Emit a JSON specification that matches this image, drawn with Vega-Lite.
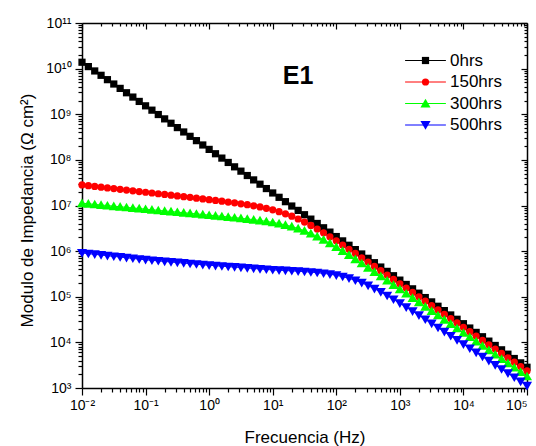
{
"$schema":"https://vega.github.io/schema/vega-lite/v6.json",
"width":445,"height":365,
"autosize":{"type":"none"},
"padding":{"left":82,"top":23,"right":9,"bottom":58},
"background":"white",
"config":{"view":{"stroke":null},"font":"Liberation Sans",
"axis":{"grid":false,"labelFlush":false,"domainColor":"black","tickColor":"black","labelColor":"black","titleColor":"black","labelFont":"Liberation Sans","titleFont":"Liberation Sans","labelFontSize":14,"titleFontSize":17,"titleFontWeight":"normal","domainWidth":1.5,"tickWidth":1.2}},
"data":{"values":[
{"s":"0hrs","f":0.01,"z":1.38e10},{"s":"0hrs","f":0.01259,"z":1.108e10},{"s":"0hrs","f":0.01585,"z":8.89e9},{"s":"0hrs","f":0.01995,"z":7.14e9},{"s":"0hrs","f":0.02512,"z":5.73e9},{"s":"0hrs","f":0.03162,"z":4.60e9},{"s":"0hrs","f":0.03981,"z":3.69e9},{"s":"0hrs","f":0.05012,"z":2.96e9},{"s":"0hrs","f":0.0631,"z":2.38e9},{"s":"0hrs","f":0.07943,"z":1.91e9},
{"s":"0hrs","f":0.1,"z":1.53e9},{"s":"0hrs","f":0.1259,"z":1.229e9},{"s":"0hrs","f":0.1585,"z":9.86e8},{"s":"0hrs","f":0.1995,"z":7.92e8},{"s":"0hrs","f":0.2512,"z":6.35e8},{"s":"0hrs","f":0.3162,"z":5.10e8},{"s":"0hrs","f":0.3981,"z":4.09e8},{"s":"0hrs","f":0.5012,"z":3.28e8},{"s":"0hrs","f":0.631,"z":2.64e8},{"s":"0hrs","f":0.7943,"z":2.12e8},
{"s":"0hrs","f":1,"z":1.697e8},{"s":"0hrs","f":1.259,"z":1.363e8},{"s":"0hrs","f":1.585,"z":1.094e8},{"s":"0hrs","f":1.995,"z":8.78e7},{"s":"0hrs","f":2.512,"z":7.04e7},{"s":"0hrs","f":3.162,"z":5.66e7},{"s":"0hrs","f":3.981,"z":4.54e7},{"s":"0hrs","f":5.012,"z":3.64e7},{"s":"0hrs","f":6.31,"z":2.93e7},{"s":"0hrs","f":7.943,"z":2.35e7},
{"s":"0hrs","f":10,"z":1.882e7},{"s":"0hrs","f":12.59,"z":1.512e7},{"s":"0hrs","f":15.85,"z":1.213e7},{"s":"0hrs","f":19.95,"z":9.74e6},{"s":"0hrs","f":25.12,"z":7.81e6},{"s":"0hrs","f":31.62,"z":6.28e6},{"s":"0hrs","f":39.81,"z":5.03e6},{"s":"0hrs","f":50.12,"z":4.04e6},{"s":"0hrs","f":63.1,"z":3.25e6},{"s":"0hrs","f":79.43,"z":2.61e6},
{"s":"0hrs","f":100,"z":2.087e6},{"s":"0hrs","f":125.9,"z":1.677e6},{"s":"0hrs","f":158.5,"z":1.345e6},{"s":"0hrs","f":199.5,"z":1.080e6},{"s":"0hrs","f":251.2,"z":8.66e5},{"s":"0hrs","f":316.2,"z":6.96e5},{"s":"0hrs","f":398.1,"z":5.58e5},{"s":"0hrs","f":501.2,"z":4.48e5},{"s":"0hrs","f":631,"z":3.60e5},{"s":"0hrs","f":794.3,"z":2.89e5},
{"s":"0hrs","f":1000,"z":2.315e5},{"s":"0hrs","f":1259,"z":1.860e5},{"s":"0hrs","f":1585,"z":1.492e5},{"s":"0hrs","f":1995,"z":1.198e5},{"s":"0hrs","f":2512,"z":9.60e4},{"s":"0hrs","f":3162,"z":7.72e4},{"s":"0hrs","f":3981,"z":6.19e4},{"s":"0hrs","f":5012,"z":4.97e4},{"s":"0hrs","f":6310,"z":3.99e4},{"s":"0hrs","f":7943,"z":3.21e4},
{"s":"0hrs","f":10000,"z":2.567e4},{"s":"0hrs","f":12590,"z":2.063e4},{"s":"0hrs","f":15850,"z":1.655e4},{"s":"0hrs","f":19950,"z":1.329e4},{"s":"0hrs","f":25120,"z":1.065e4},{"s":"0hrs","f":31620,"z":8.56e3},{"s":"0hrs","f":39810,"z":6.87e3},{"s":"0hrs","f":50120,"z":5.51e3},{"s":"0hrs","f":63100,"z":4.43e3},{"s":"0hrs","f":79430,"z":3.56e3},
{"s":"0hrs","f":100000,"z":2.85e3},
{"s":"150hrs","f":0.01,"z":2.818e7},{"s":"150hrs","f":0.01259,"z":2.72e7},{"s":"150hrs","f":0.01585,"z":2.62e7},{"s":"150hrs","f":0.01995,"z":2.523e7},{"s":"150hrs","f":0.02512,"z":2.432e7},{"s":"150hrs","f":0.03162,"z":2.344e7},{"s":"150hrs","f":0.03981,"z":2.259e7},{"s":"150hrs","f":0.05012,"z":2.178e7},{"s":"150hrs","f":0.0631,"z":2.099e7},{"s":"150hrs","f":0.07943,"z":2.023e7},
{"s":"150hrs","f":0.1,"z":1.950e7},{"s":"150hrs","f":0.1259,"z":1.879e7},{"s":"150hrs","f":0.1585,"z":1.811e7},{"s":"150hrs","f":0.1995,"z":1.746e7},{"s":"150hrs","f":0.2512,"z":1.683e7},{"s":"150hrs","f":0.3162,"z":1.622e7},{"s":"150hrs","f":0.3981,"z":1.563e7},{"s":"150hrs","f":0.5012,"z":1.507e7},{"s":"150hrs","f":0.631,"z":1.449e7},{"s":"150hrs","f":0.7943,"z":1.396e7},
{"s":"150hrs","f":1,"z":1.343e7},{"s":"150hrs","f":1.259,"z":1.291e7},{"s":"150hrs","f":1.585,"z":1.242e7},{"s":"150hrs","f":1.995,"z":1.191e7},{"s":"150hrs","f":2.512,"z":1.143e7},{"s":"150hrs","f":3.162,"z":1.091e7},{"s":"150hrs","f":3.981,"z":1.040e7},{"s":"150hrs","f":5.012,"z":9.86e6},{"s":"150hrs","f":6.31,"z":9.29e6},{"s":"150hrs","f":7.943,"z":8.67e6},
{"s":"150hrs","f":10,"z":8.02e6},{"s":"150hrs","f":12.59,"z":7.31e6},{"s":"150hrs","f":15.85,"z":6.58e6},{"s":"150hrs","f":19.95,"z":5.82e6},{"s":"150hrs","f":25.12,"z":5.06e6},{"s":"150hrs","f":31.62,"z":4.33e6},{"s":"150hrs","f":39.81,"z":3.66e6},{"s":"150hrs","f":50.12,"z":3.05e6},{"s":"150hrs","f":63.1,"z":2.515e6},{"s":"150hrs","f":79.43,"z":2.06e6},
{"s":"150hrs","f":100,"z":1.678e6},{"s":"150hrs","f":125.9,"z":1.361e6},{"s":"150hrs","f":158.5,"z":1.100e6},{"s":"150hrs","f":199.5,"z":8.88e5},{"s":"150hrs","f":251.2,"z":7.15e5},{"s":"150hrs","f":316.2,"z":5.75e5},{"s":"150hrs","f":398.1,"z":4.63e5},{"s":"150hrs","f":501.2,"z":3.72e5},{"s":"150hrs","f":631,"z":2.99e5},{"s":"150hrs","f":794.3,"z":2.40e5},
{"s":"150hrs","f":1000,"z":1.926e5},{"s":"150hrs","f":1259,"z":1.547e5},{"s":"150hrs","f":1585,"z":1.241e5},{"s":"150hrs","f":1995,"z":9.97e4},{"s":"150hrs","f":2512,"z":7.99e4},{"s":"150hrs","f":3162,"z":6.42e4},{"s":"150hrs","f":3981,"z":5.15e4},{"s":"150hrs","f":5012,"z":4.13e4},{"s":"150hrs","f":6310,"z":3.32e4},{"s":"150hrs","f":7943,"z":2.67e4},
{"s":"150hrs","f":10000,"z":2.135e4},{"s":"150hrs","f":12590,"z":1.716e4},{"s":"150hrs","f":15850,"z":1.377e4},{"s":"150hrs","f":19950,"z":1.105e4},{"s":"150hrs","f":25120,"z":8.86e3},{"s":"150hrs","f":31620,"z":7.12e3},{"s":"150hrs","f":39810,"z":5.71e3},{"s":"150hrs","f":50120,"z":4.58e3},{"s":"150hrs","f":63100,"z":3.68e3},{"s":"150hrs","f":79430,"z":2.96e3},
{"s":"150hrs","f":100000,"z":2.37e3},
{"s":"300hrs","f":0.01,"z":1.122e7},{"s":"300hrs","f":0.01259,"z":1.089e7},{"s":"300hrs","f":0.01585,"z":1.057e7},{"s":"300hrs","f":0.01995,"z":1.026e7},{"s":"300hrs","f":0.02512,"z":9.95e6},{"s":"300hrs","f":0.03162,"z":9.66e6},{"s":"300hrs","f":0.03981,"z":9.38e6},{"s":"300hrs","f":0.05012,"z":9.10e6},{"s":"300hrs","f":0.0631,"z":8.83e6},{"s":"300hrs","f":0.07943,"z":8.57e6},
{"s":"300hrs","f":0.1,"z":8.32e6},{"s":"300hrs","f":0.1259,"z":8.07e6},{"s":"300hrs","f":0.1585,"z":7.83e6},{"s":"300hrs","f":0.1995,"z":7.60e6},{"s":"300hrs","f":0.2512,"z":7.38e6},{"s":"300hrs","f":0.3162,"z":7.16e6},{"s":"300hrs","f":0.3981,"z":6.95e6},{"s":"300hrs","f":0.5012,"z":6.75e6},{"s":"300hrs","f":0.631,"z":6.55e6},{"s":"300hrs","f":0.7943,"z":6.35e6},
{"s":"300hrs","f":1,"z":6.15e6},{"s":"300hrs","f":1.259,"z":5.97e6},{"s":"300hrs","f":1.585,"z":5.79e6},{"s":"300hrs","f":1.995,"z":5.61e6},{"s":"300hrs","f":2.512,"z":5.43e6},{"s":"300hrs","f":3.162,"z":5.25e6},{"s":"300hrs","f":3.981,"z":5.07e6},{"s":"300hrs","f":5.012,"z":4.89e6},{"s":"300hrs","f":6.31,"z":4.69e6},{"s":"300hrs","f":7.943,"z":4.49e6},
{"s":"300hrs","f":10,"z":4.27e6},{"s":"300hrs","f":12.59,"z":4.02e6},{"s":"300hrs","f":15.85,"z":3.75e6},{"s":"300hrs","f":19.95,"z":3.456e6},{"s":"300hrs","f":25.12,"z":3.13e6},{"s":"300hrs","f":31.62,"z":2.79e6},{"s":"300hrs","f":39.81,"z":2.443e6},{"s":"300hrs","f":50.12,"z":2.101e6},{"s":"300hrs","f":63.1,"z":1.779e6},{"s":"300hrs","f":79.43,"z":1.486e6},
{"s":"300hrs","f":100,"z":1.229e6},{"s":"300hrs","f":125.9,"z":1.007e6},{"s":"300hrs","f":158.5,"z":8.21e5},{"s":"300hrs","f":199.5,"z":6.66e5},{"s":"300hrs","f":251.2,"z":5.38e5},{"s":"300hrs","f":316.2,"z":4.34e5},{"s":"300hrs","f":398.1,"z":3.50e5},{"s":"300hrs","f":501.2,"z":2.813e5},{"s":"300hrs","f":631,"z":2.262e5},{"s":"300hrs","f":794.3,"z":1.817e5},
{"s":"300hrs","f":1000,"z":1.461e5},{"s":"300hrs","f":1259,"z":1.174e5},{"s":"300hrs","f":1585,"z":9.41e4},{"s":"300hrs","f":1995,"z":7.56e4},{"s":"300hrs","f":2512,"z":6.06e4},{"s":"300hrs","f":3162,"z":4.87e4},{"s":"300hrs","f":3981,"z":3.91e4},{"s":"300hrs","f":5012,"z":3.14e4},{"s":"300hrs","f":6310,"z":2.52e4},{"s":"300hrs","f":7943,"z":2.03e4},
{"s":"300hrs","f":10000,"z":1.620e4},{"s":"300hrs","f":12590,"z":1.302e4},{"s":"300hrs","f":15850,"z":1.044e4},{"s":"300hrs","f":19950,"z":8.39e3},{"s":"300hrs","f":25120,"z":6.72e3},{"s":"300hrs","f":31620,"z":5.40e3},{"s":"300hrs","f":39810,"z":4.34e3},{"s":"300hrs","f":50120,"z":3.48e3},{"s":"300hrs","f":63100,"z":2.80e3},{"s":"300hrs","f":79430,"z":2.25e3},
{"s":"300hrs","f":100000,"z":1.80e3},
{"s":"500hrs","f":0.01,"z":9.12e5},{"s":"500hrs","f":0.01259,"z":8.81e5},{"s":"500hrs","f":0.01585,"z":8.51e5},{"s":"500hrs","f":0.01995,"z":8.22e5},{"s":"500hrs","f":0.02512,"z":7.94e5},{"s":"500hrs","f":0.03162,"z":7.67e5},{"s":"500hrs","f":0.03981,"z":7.41e5},{"s":"500hrs","f":0.05012,"z":7.16e5},{"s":"500hrs","f":0.0631,"z":6.92e5},{"s":"500hrs","f":0.07943,"z":6.68e5},
{"s":"500hrs","f":0.1,"z":6.46e5},{"s":"500hrs","f":0.1259,"z":6.28e5},{"s":"500hrs","f":0.1585,"z":6.11e5},{"s":"500hrs","f":0.1995,"z":5.94e5},{"s":"500hrs","f":0.2512,"z":5.78e5},{"s":"500hrs","f":0.3162,"z":5.62e5},{"s":"500hrs","f":0.3981,"z":5.47e5},{"s":"500hrs","f":0.5012,"z":5.32e5},{"s":"500hrs","f":0.631,"z":5.18e5},{"s":"500hrs","f":0.7943,"z":5.04e5},
{"s":"500hrs","f":1,"z":4.90e5},{"s":"500hrs","f":1.259,"z":4.79e5},{"s":"500hrs","f":1.585,"z":4.68e5},{"s":"500hrs","f":1.995,"z":4.57e5},{"s":"500hrs","f":2.512,"z":4.47e5},{"s":"500hrs","f":3.162,"z":4.37e5},{"s":"500hrs","f":3.981,"z":4.27e5},{"s":"500hrs","f":5.012,"z":4.17e5},{"s":"500hrs","f":6.31,"z":4.06e5},{"s":"500hrs","f":7.943,"z":3.97e5},
{"s":"500hrs","f":10,"z":3.88e5},{"s":"500hrs","f":12.59,"z":3.82e5},{"s":"500hrs","f":15.85,"z":3.76e5},{"s":"500hrs","f":19.95,"z":3.69e5},{"s":"500hrs","f":25.12,"z":3.63e5},{"s":"500hrs","f":31.62,"z":3.55e5},{"s":"500hrs","f":39.81,"z":3.47e5},{"s":"500hrs","f":50.12,"z":3.37e5},{"s":"500hrs","f":63.1,"z":3.256e5},{"s":"500hrs","f":79.43,"z":3.12e5},
{"s":"500hrs","f":100,"z":2.95e5},{"s":"500hrs","f":125.9,"z":2.76e5},{"s":"500hrs","f":158.5,"z":2.535e5},{"s":"500hrs","f":199.5,"z":2.286e5},{"s":"500hrs","f":251.2,"z":2.023e5},{"s":"500hrs","f":316.2,"z":1.758e5},{"s":"500hrs","f":398.1,"z":1.502e5},{"s":"500hrs","f":501.2,"z":1.266e5},{"s":"500hrs","f":631,"z":1.057e5},{"s":"500hrs","f":794.3,"z":8.74e4},
{"s":"500hrs","f":1000,"z":7.19e4},{"s":"500hrs","f":1259,"z":5.89e4},{"s":"500hrs","f":1585,"z":4.81e4},{"s":"500hrs","f":1995,"z":3.92e4},{"s":"500hrs","f":2512,"z":3.185e4},{"s":"500hrs","f":3162,"z":2.588e4},{"s":"500hrs","f":3981,"z":2.102e4},{"s":"500hrs","f":5012,"z":1.707e4},{"s":"500hrs","f":6310,"z":1.387e4},{"s":"500hrs","f":7943,"z":1.125e4},
{"s":"500hrs","f":10000,"z":9.12e3},{"s":"500hrs","f":12590,"z":7.40e3},{"s":"500hrs","f":15850,"z":6.00e3},{"s":"500hrs","f":19950,"z":4.86e3},{"s":"500hrs","f":25120,"z":3.94e3},{"s":"500hrs","f":31620,"z":3.20e3},{"s":"500hrs","f":39810,"z":2.594e3},{"s":"500hrs","f":50120,"z":2.104e3},{"s":"500hrs","f":63100,"z":1.706e3},{"s":"500hrs","f":79430,"z":1.384e3},
{"s":"500hrs","f":100000,"z":1.122e3}
]},
"layer":[
{"mark":{"type":"line","strokeOpacity":0},
 "encoding":{
  "x":{"field":"f","type":"quantitative","scale":{"type":"log","domain":[0.01,100000],"nice":false},
   "axis":{"orient":"top","values":[0.02,0.03,0.04,0.05,0.06,0.07,0.08,0.09,0.2,0.3,0.4,0.5,0.6,0.7,0.8,0.9,2,3,4,5,6,7,8,9,20,30,40,50,60,70,80,90,200,300,400,500,600,700,800,900,2000,3000,4000,5000,6000,7000,8000,9000,20000,30000,40000,50000,60000,70000,80000,90000],"labels":false,"domain":false,"tickSize":-3,"title":null}},
  "y":{"field":"z","type":"quantitative","scale":{"type":"log","domain":[1000,100000000000],"nice":false},
   "axis":{"orient":"right","values":[2000,3000,4000,5000,6000,7000,8000,9000,20000,30000,40000,50000,60000,70000,80000,90000,2e5,3e5,4e5,5e5,6e5,7e5,8e5,9e5,2e6,3e6,4e6,5e6,6e6,7e6,8e6,9e6,2e7,3e7,4e7,5e7,6e7,7e7,8e7,9e7,2e8,3e8,4e8,5e8,6e8,7e8,8e8,9e8,2e9,3e9,4e9,5e9,6e9,7e9,8e9,9e9,2e10,3e10,4e10,5e10,6e10,7e10,8e10,9e10],"labels":false,"domain":false,"tickSize":-3,"title":null}},
  "detail":{"field":"s"}
 }},
{"mark":{"type":"line","strokeWidth":1},
 "encoding":{
  "x":{"field":"f","type":"quantitative","scale":{"type":"log","domain":[0.01,100000],"nice":false},
   "axis":{"orient":"bottom","values":[0.01,0.1,1,10,100,1000,10000,100000],"tickSize":7,"labelPadding":3,
    "labelAlign":{"condition":{"test":"datum.value > 50000","value":"right"},"value":"center"},
    "labelExpr":"'10' + ['\u207b\u00b2','\u207b\u00b9','\u2070','\u00b9','\u00b2','\u00b3','\u2074','\u2075'][round(log(datum.value)/LN10)+2]",
    "title":"Frecuencia (Hz)","titleBaseline":"alphabetic","titleY":54}},
  "y":{"field":"z","type":"quantitative","scale":{"type":"log","domain":[1000,100000000000],"nice":false},
   "axis":{"orient":"left","values":[1000,10000,100000,1000000,10000000,100000000,1000000000,10000000000,100000000000],"tickSize":7,"labelPadding":4,
    "labelExpr":"'10' + ['\u00b3','\u2074','\u2075','\u2076','\u2077','\u2078','\u2079','\u00b9\u2070','\u00b9\u00b9'][round(log(datum.value)/LN10)-3]",
    "title":"Modulo de Impedancia (\u03a9 cm\u00b2)","titleBaseline":"alphabetic","titleX":-50,"titleY":187}},
  "stroke":{"field":"s","type":"nominal","scale":{"domain":["0hrs","150hrs","300hrs","500hrs"],"range":["#000000","#ff0000","#00ff00","#0000ff"]},
   "legend":{"orient":"none","legendX":335,"legendY":29,"title":null,"padding":0,"symbolType":"M-5.1,0H5.1","symbolSize":64,"symbolStrokeWidth":1,"symbolFillColor":"transparent","labelFontSize":17,"labelFont":"Liberation Sans","labelColor":"black","labelOffset":16,"rowPadding":3.5}}
 }},
{"mark":{"type":"point","filled":true,"size":52,"strokeWidth":0,"opacity":1},
 "encoding":{
  "x":{"field":"f","type":"quantitative","scale":{"type":"log","domain":[0.01,100000],"nice":false},
   "axis":{"orient":"bottom","values":[0.02,0.03,0.04,0.05,0.06,0.07,0.08,0.09,0.2,0.3,0.4,0.5,0.6,0.7,0.8,0.9,2,3,4,5,6,7,8,9,20,30,40,50,60,70,80,90,200,300,400,500,600,700,800,900,2000,3000,4000,5000,6000,7000,8000,9000,20000,30000,40000,50000,60000,70000,80000,90000],"labels":false,"domain":false,"tickSize":4,"title":null}},
  "y":{"field":"z","type":"quantitative","scale":{"type":"log","domain":[1000,100000000000],"nice":false},
   "axis":{"orient":"left","values":[2000,3000,4000,5000,6000,7000,8000,9000,20000,30000,40000,50000,60000,70000,80000,90000,2e5,3e5,4e5,5e5,6e5,7e5,8e5,9e5,2e6,3e6,4e6,5e6,6e6,7e6,8e6,9e6,2e7,3e7,4e7,5e7,6e7,7e7,8e7,9e7,2e8,3e8,4e8,5e8,6e8,7e8,8e8,9e8,2e9,3e9,4e9,5e9,6e9,7e9,8e9,9e9,2e10,3e10,4e10,5e10,6e10,7e10,8e10,9e10],"labels":false,"domain":false,"tickSize":4,"title":null}},
  "fill":{"field":"s","type":"nominal","scale":{"range":["#000000","#ff0000","#00ff00","#0000ff"]},
   "legend":{"orient":"none","legendX":335,"legendY":29,"title":null,"padding":0,"symbolSize":52,"symbolStrokeWidth":0,"labelFontSize":17,"labelColor":"transparent","labelOffset":16,"rowPadding":3.5}},
  "shape":{"field":"s","type":"nominal","scale":{"range":["M-1,-1H1V1H-1Z","circle","M0,-1.3L1.4,1.1L-1.4,1.1Z","M0,1.3L1.4,-1.1L-1.4,-1.1Z"]},
   "legend":{"orient":"none","legendX":335,"legendY":29,"title":null,"padding":0,"symbolSize":52,"symbolStrokeWidth":0,"labelFontSize":17,"labelColor":"transparent","labelOffset":16,"rowPadding":3.5}}
 }},
{"data":{"values":[{"lbl":"E1","f":25,"z":7e9}]},
 "mark":{"type":"text","font":"Liberation Sans","fontWeight":"bold","fontSize":25,"align":"center","baseline":"middle","color":"black"},
 "encoding":{
  "x":{"field":"f","type":"quantitative","scale":{"type":"log","domain":[0.01,100000],"nice":false},
   "axis":{"orient":"top","values":[0.01,0.1,1,10,100,1000,10000,100000],"labels":false,"tickSize":-6,"title":null}},
  "y":{"field":"z","type":"quantitative","scale":{"type":"log","domain":[1000,100000000000],"nice":false},
   "axis":{"orient":"right","values":[1000,10000,100000,1000000,10000000,100000000,1000000000,10000000000,100000000000],"labels":false,"tickSize":-6,"title":null}},
  "text":{"field":"lbl"}
 }}
],
"resolve":{"axis":{"x":"independent","y":"independent"}}
}
